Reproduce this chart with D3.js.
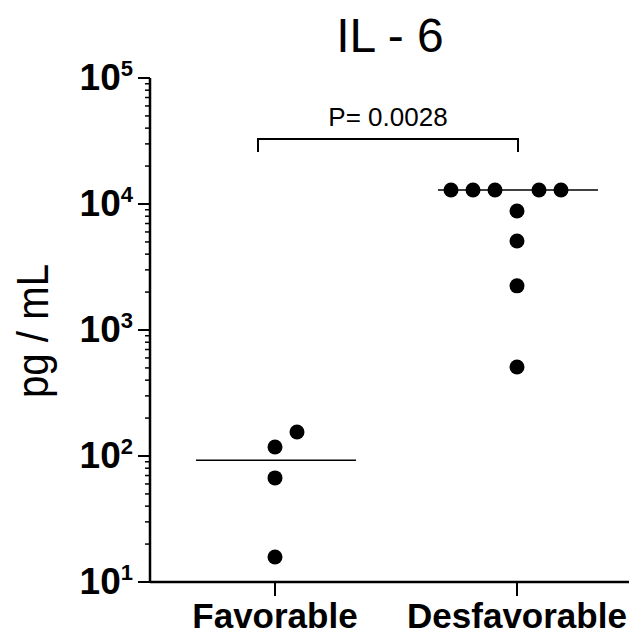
<!DOCTYPE html>
<html>
<head>
<meta charset="utf-8">
<script src="https://cdn.jsdelivr.net/npm/d3@7"></script>
<style>
  body { margin: 0; background: #fff; }
  svg { display: block; }
  text { font-family: "Liberation Sans", Arial, sans-serif; fill: #000; }
</style>
</head>
<body>
<div id="chart"></div>
<script>
// data
var categories = ["Favorable", "Desfavorable"];
var favorable = [15.8, 67, 118, 155];
var desfavorable = [508, 2240, 5080, 8800, 12900, 12900, 12900, 12900, 12900];
var yTickExponents = [1, 2, 3, 4, 5];
var chartTitle = "IL - 6";
var yTitle = "pg / mL";
var pLabel = "P= 0.0028";

var width = 629, height = 637;

var svg = d3.select("#chart").append("svg")
    .attr("width", width)
    .attr("height", height);

var x = d3.scalePoint()
    .domain(categories)
    .range([275, 517]);

var y = d3.scaleLog()
    .domain([10, 1e5])
    .range([582, 78]);

// title
svg.append("text")
    .attr("x", 390)
    .attr("y", 52)
    .attr("text-anchor", "middle")
    .style("font-size", "48px")
    .text(chartTitle);

// y axis title
svg.append("text")
    .attr("transform", "translate(48,331) rotate(-90)")
    .attr("text-anchor", "middle")
    .attr("textLength", 134)
    .attr("lengthAdjust", "spacingAndGlyphs")
    .style("font-size", "44px")
    .text(yTitle);

// y axis line + ticks
var axisX = 150;
svg.append("line")
    .attr("x1", axisX).attr("x2", axisX)
    .attr("y1", y(1e5)).attr("y2", y(10))
    .attr("stroke", "#000").attr("stroke-width", 2.5);

var minor = [];
yTickExponents.slice(0, -1).forEach(function(e) {
  for (var k = 2; k <= 9; k++) minor.push(k * Math.pow(10, e));
});
svg.selectAll(".minor").data(minor).enter().append("line")
    .attr("class", "minor")
    .attr("x1", axisX - 5).attr("x2", axisX)
    .attr("y1", function(d) { return y(d); })
    .attr("y2", function(d) { return y(d); })
    .attr("stroke", "#000").attr("stroke-width", 1.5);

svg.selectAll(".major").data(yTickExponents).enter().append("line")
    .attr("class", "major")
    .attr("x1", axisX - 12).attr("x2", axisX)
    .attr("y1", function(d) { return y(Math.pow(10, d)); })
    .attr("y2", function(d) { return y(Math.pow(10, d)); })
    .attr("stroke", "#000").attr("stroke-width", 2);

var lbl = svg.selectAll(".ylab").data(yTickExponents).enter().append("text")
    .attr("class", "ylab")
    .attr("x", 133)
    .attr("y", function(d) { return y(Math.pow(10, d)) + 12; })
    .attr("text-anchor", "end")
    .style("font-size", "37px")
    .style("font-weight", "bold");
lbl.append("tspan").text("10");
lbl.append("tspan")
    .attr("dy", -14)
    .style("font-size", "22px")
    .text(function(d) { return d; });

// x axis
svg.append("line")
    .attr("x1", axisX).attr("x2", width)
    .attr("y1", y(10)).attr("y2", y(10))
    .attr("stroke", "#000").attr("stroke-width", 2.5);

svg.selectAll(".xtick").data(categories).enter().append("line")
    .attr("class", "xtick")
    .attr("x1", function(d) { return x(d); })
    .attr("x2", function(d) { return x(d); })
    .attr("y1", y(10)).attr("y2", y(10) + 14)
    .attr("stroke", "#000").attr("stroke-width", 2);

svg.selectAll(".xlab").data(categories).enter().append("text")
    .attr("class", "xlab")
    .attr("x", function(d) { return x(d); })
    .attr("y", 628)
    .attr("text-anchor", "middle")
    .style("font-size", "35px")
    .style("font-weight", "bold")
    .text(function(d) { return d; });

// points, dodged sideways when they overlap
var groups = [
  { name: "Favorable", values: favorable, side: 1 },
  { name: "Desfavorable", values: desfavorable, side: -1 }
];
var slot = 22, minDist = 21.5, r = 7.5;

groups.forEach(function(g) {
  var placed = [];
  g.values.slice().sort(d3.ascending).forEach(function(v) {
    var py = y(v);
    for (var k = 0; k < 20; k++) {
      var n = Math.ceil(k / 2);
      var s = (k === 0) ? 0 : (k % 2 === 1 ? g.side * n : -g.side * n);
      var px = x(g.name) + s * slot;
      var hit = placed.some(function(p) {
        return Math.hypot(p.x - px, p.y - py) < minDist;
      });
      if (!hit) { placed.push({ x: px, y: py, v: v }); break; }
    }
  });

  var med = d3.median(g.values);
  svg.append("line")
      .attr("x1", x(g.name) - 79).attr("x2", x(g.name) + 81)
      .attr("y1", y(med)).attr("y2", y(med))
      .attr("stroke", "#000").attr("stroke-width", 1.5);

  svg.selectAll(".pt-" + g.name).data(placed).enter().append("circle")
      .attr("cx", function(d) { return d.x; })
      .attr("cy", function(d) { return d.y; })
      .attr("r", r)
      .attr("fill", "#000");
});

// significance bracket
var bx1 = x("Favorable") - 17, bx2 = x("Desfavorable") + 1;
var by = 139;
svg.append("path")
    .attr("d", "M" + bx1 + "," + (by + 13) + "V" + by + "H" + bx2 + "V" + (by + 13))
    .attr("fill", "none")
    .attr("stroke", "#000").attr("stroke-width", 2);

svg.append("text")
    .attr("x", (bx1 + bx2) / 2)
    .attr("y", 126)
    .attr("text-anchor", "middle")
    .style("font-size", "26px")
    .text(pLabel);
</script>
</body>
</html>
